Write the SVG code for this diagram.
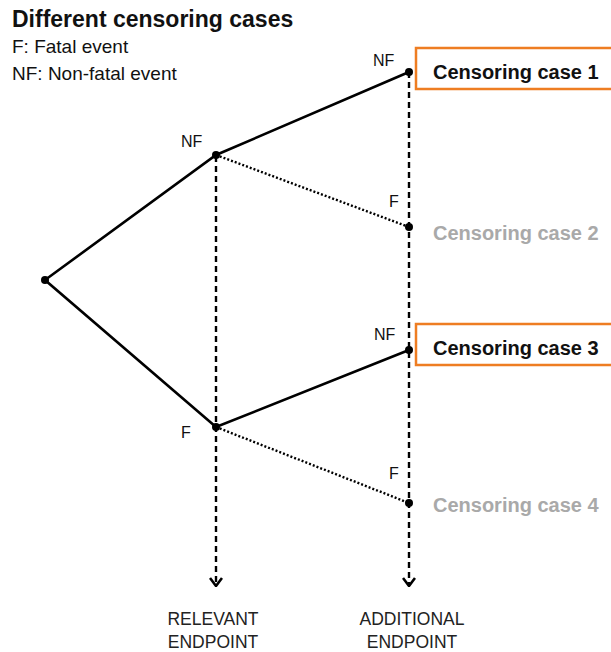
<svg xmlns="http://www.w3.org/2000/svg" width="611" height="652" viewBox="0 0 611 652">
<defs>
<style>
text{font-family:"Liberation Sans",Arial,sans-serif;fill:#111}
.solid{stroke:#000;stroke-width:2.6;fill:none}
.dotted{stroke:#000;stroke-width:2.4;stroke-dasharray:2 2;fill:none}
.dashed{stroke:#000;stroke-width:2.4;stroke-dasharray:6 4;fill:none}
.dot{fill:#000}
.lbl{font-size:16px}
.case{font-size:20px;font-weight:bold}
.gray{fill:#a9a9a9}
.box{fill:none;stroke:#EE7D22;stroke-width:2.5}
.end{font-size:17.5px;fill:#222;text-anchor:middle}
</style>
<marker id="arr" viewBox="0 0 10 14" refX="9" refY="7" markerWidth="10" markerHeight="14" markerUnits="userSpaceOnUse" orient="auto">
<path d="M1,1 L9,7 L1,13" fill="none" stroke="#000" stroke-width="2.6"/>
</marker>
</defs>
<g id="title">
<text x="12" y="27" style="font-size:23px;font-weight:bold">Different censoring cases</text>
<text x="12" y="53" style="font-size:19px">F: Fatal event</text>
<text x="12" y="80" style="font-size:19px">NF: Non-fatal event</text>
</g>
<g id="connectors">
<line class="dashed" x1="216" y1="156" x2="216" y2="586" marker-end="url(#arr)"/>
<line class="dashed" x1="409" y1="72" x2="409" y2="586" marker-end="url(#arr)"/>
<polyline class="solid" points="409,72 216,155 45,280 216,427 409,350"/>
<line class="dotted" x1="216" y1="155" x2="409" y2="227"/>
<line class="dotted" x1="216" y1="427" x2="409" y2="503"/>
</g>
<g id="root"><circle class="dot" cx="45" cy="280" r="4"/></g>
<g id="node-nf"><circle class="dot" cx="216" cy="155" r="4"/><text class="lbl" x="181" y="147">NF</text></g>
<g id="node-f"><circle class="dot" cx="216" cy="427" r="4"/><text class="lbl" x="181" y="438">F</text></g>
<g id="case1">
<circle class="dot" cx="409" cy="72" r="4"/>
<text class="lbl" x="373" y="66">NF</text>
<rect class="box" x="416" y="48" width="205" height="41"/>
<text class="case" x="433" y="79">Censoring case 1</text>
</g>
<g id="case2">
<circle class="dot" cx="409" cy="227" r="4"/>
<text class="lbl" x="389" y="207">F</text>
<text class="case gray" x="433" y="240">Censoring case 2</text>
</g>
<g id="case3">
<circle class="dot" cx="409" cy="350" r="4"/>
<text class="lbl" x="374" y="340">NF</text>
<rect class="box" x="416" y="324" width="205" height="41"/>
<text class="case" x="433" y="355">Censoring case 3</text>
</g>
<g id="case4">
<circle class="dot" cx="409" cy="503" r="4"/>
<text class="lbl" x="389" y="479">F</text>
<text class="case gray" x="433" y="512">Censoring case 4</text>
</g>
<g id="endpoint-relevant">
<text class="end" x="213" y="625">RELEVANT</text>
<text class="end" x="213" y="648">ENDPOINT</text>
</g>
<g id="endpoint-additional">
<text class="end" x="412" y="625">ADDITIONAL</text>
<text class="end" x="412" y="648">ENDPOINT</text>
</g>
</svg>
